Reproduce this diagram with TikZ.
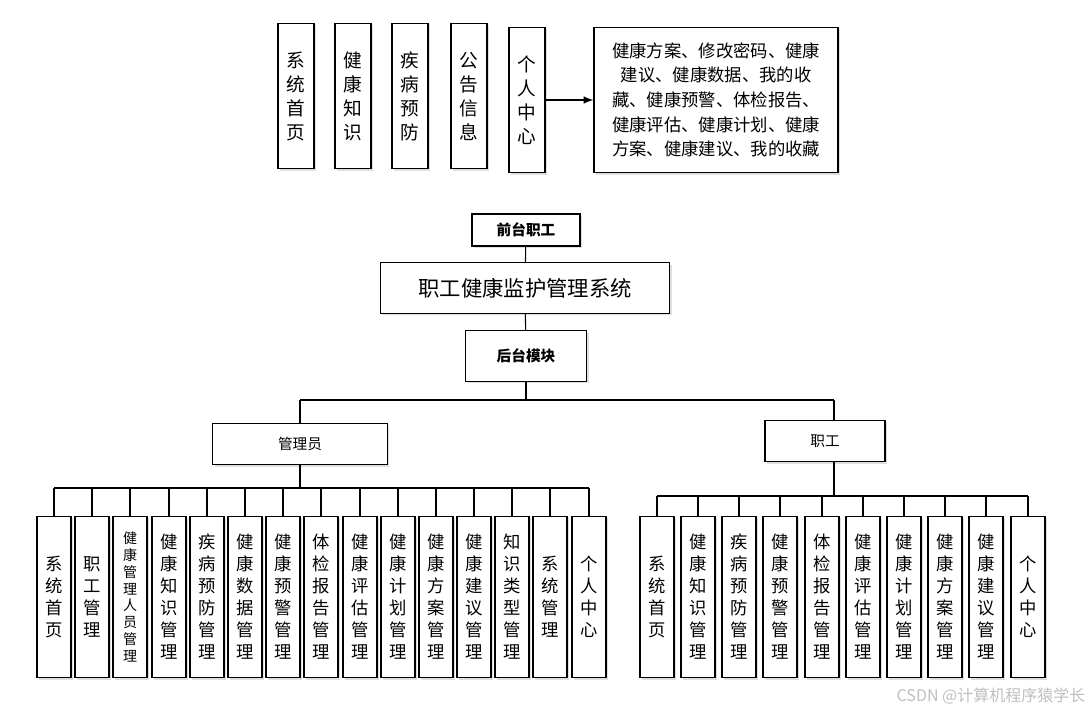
\documentclass[tikz,border=0pt]{standalone}
\usepackage{fontspec}
\newfontfamily\cjk{Noto Sans CJK SC}
\usetikzlibrary{shadows}
\begin{document}
\begin{tikzpicture}[x=0.75pt,y=-0.75pt,font=\cjk,
  bx/.style={draw,thick,fill=white,drop shadow={shadow xshift=1.5pt,shadow yshift=-1.5pt,opacity=0.25},inner sep=0pt,align=center},
  vb/.style={bx,minimum width=25.5pt,minimum height=121pt,font=\cjk\fontsize{13}{16.5}\selectfont},
  tb/.style={bx,minimum width=27pt,minimum height=109pt,font=\cjk\fontsize{14}{18}\selectfont},
  ln/.style={thick}]
\useasboundingbox (0,0) rectangle (1092,714);
% top row
\node[tb] (t1) at (296,96) {系\\统\\首\\页};
\node[tb] (t2) at (353,96) {健\\康\\知\\识};
\node[tb] (t3) at (410,96) {疾\\病\\预\\防};
\node[tb] (t4) at (469,96) {公\\告\\信\\息};
\node[tb] (t5) at (527,100) {个\\人\\中\\心};
\node[bx,minimum width=183pt,minimum height=109pt,font=\cjk\fontsize{13}{18.5}\selectfont] (tr) at (716,100)
 {健康方案、修改密码、健康\\建议、健康数据、我的收\\藏、健康预警、体检报告、\\健康评估、健康计划、健康\\方案、健康建议、我的收藏};
\draw[ln,-latex,line width=1.5pt] (t5) -- (tr);
% center
\node[bx,minimum width=81pt,minimum height=24pt,font=\cjk\bfseries\fontsize{11}{13}\selectfont] (fq) at (526,230) {前台职工};
\node[bx,minimum width=217pt,minimum height=38pt,font=\cjk\fontsize{16}{19}\selectfont] (sys) at (525,288) {职工健康监护管理系统};
\node[bx,minimum width=91pt,minimum height=38pt,font=\cjk\bfseries\fontsize{11}{13}\selectfont] (hq) at (526,356) {后台模块};
\node[bx,minimum width=131pt,minimum height=31pt,font=\cjk\fontsize{11}{13}\selectfont] (adm) at (300,444) {管理员};
\node[bx,minimum width=90pt,minimum height=31pt,font=\cjk\fontsize{11}{13}\selectfont] (emp) at (825,441) {职工};
\draw[ln] (fq) -- (sys);
\draw[ln] (sys) -- (hq);
\coordinate (j) at (526,400);
\draw[ln] (hq) -- (j);
\draw[ln] (300,400) -- (834,400);
\draw[ln] (300,400) -- (adm.north);
\draw[ln] (834,400) -- (834,421);
% admin leaves
\def\L{{"系\\统\\首\\页","职\\工\\管\\理","","健\\康\\知\\识\\管\\理","疾\\病\\预\\防\\管\\理","健\\康\\数\\据\\管\\理","健\\康\\预\\警\\管\\理","体\\检\\报\\告\\管\\理","健\\康\\评\\估\\管\\理","健\\康\\计\\划\\管\\理","健\\康\\方\\案\\管\\理","健\\康\\建\\议\\管\\理","知\\识\\类\\型\\管\\理","系\\统\\管\\理","个\\人\\中\\心"}}
\node[vb] (a1) at (54,597) {系\\统\\首\\页};
\node[vb] (a2) at (92,597) {职\\工\\管\\理};
\node[vb,font=\cjk\fontsize{10.5}{12.6}\selectfont] (a3) at (130,597) {健\\康\\管\\理\\人\\员\\管\\理};
\node[vb] (a4) at (169,597) {健\\康\\知\\识\\管\\理};
\node[vb] (a5) at (207,597) {疾\\病\\预\\防\\管\\理};
\node[vb] (a6) at (245,597) {健\\康\\数\\据\\管\\理};
\node[vb] (a7) at (283,597) {健\\康\\预\\警\\管\\理};
\node[vb] (a8) at (321,597) {体\\检\\报\\告\\管\\理};
\node[vb] (a9) at (360,597) {健\\康\\评\\估\\管\\理};
\node[vb] (a10) at (398,597) {健\\康\\计\\划\\管\\理};
\node[vb] (a11) at (436,597) {健\\康\\方\\案\\管\\理};
\node[vb] (a12) at (474,597) {健\\康\\建\\议\\管\\理};
\node[vb] (a13) at (512,597) {知\\识\\类\\型\\管\\理};
\node[vb] (a14) at (550,597) {系\\统\\管\\理};
\node[vb] (a15) at (589,597) {个\\人\\中\\心};
\coordinate (ab) at (300,488);
\draw[ln] (adm) -- (ab);
\draw[ln] (a1.north |- ab) -- (a15.north |- ab);
\foreach \i in {1,...,15} \draw[ln] (a\i.north |- ab) -- (a\i.north);
% employee leaves
\node[vb] (e1) at (657,597) {系\\统\\首\\页};
\node[vb] (e2) at (698,597) {健\\康\\知\\识\\管\\理};
\node[vb] (e3) at (739,597) {疾\\病\\预\\防\\管\\理};
\node[vb] (e4) at (780,597) {健\\康\\预\\警\\管\\理};
\node[vb] (e5) at (822,597) {体\\检\\报\\告\\管\\理};
\node[vb] (e6) at (863,597) {健\\康\\评\\估\\管\\理};
\node[vb] (e7) at (904,597) {健\\康\\计\\划\\管\\理};
\node[vb] (e8) at (945,597) {健\\康\\方\\案\\管\\理};
\node[vb] (e9) at (986,597) {健\\康\\建\\议\\管\\理};
\node[vb] (e10) at (1028,597) {个\\人\\中\\心};
\coordinate (eb) at (834,496);
\draw[ln] (emp.south -| eb) -- (eb);
\draw[ln] (e1.north |- eb) -- (e10.north |- eb);
\foreach \i in {1,...,10} \draw[ln] (e\i.north |- eb) -- (e\i.north);
\node[text=gray!50,font=\cjk\fontsize{12}{14}\selectfont,anchor=east] (wm) at (1090,696) {CSDN @计算机程序猿学长};
\end{tikzpicture}
\end{document}
